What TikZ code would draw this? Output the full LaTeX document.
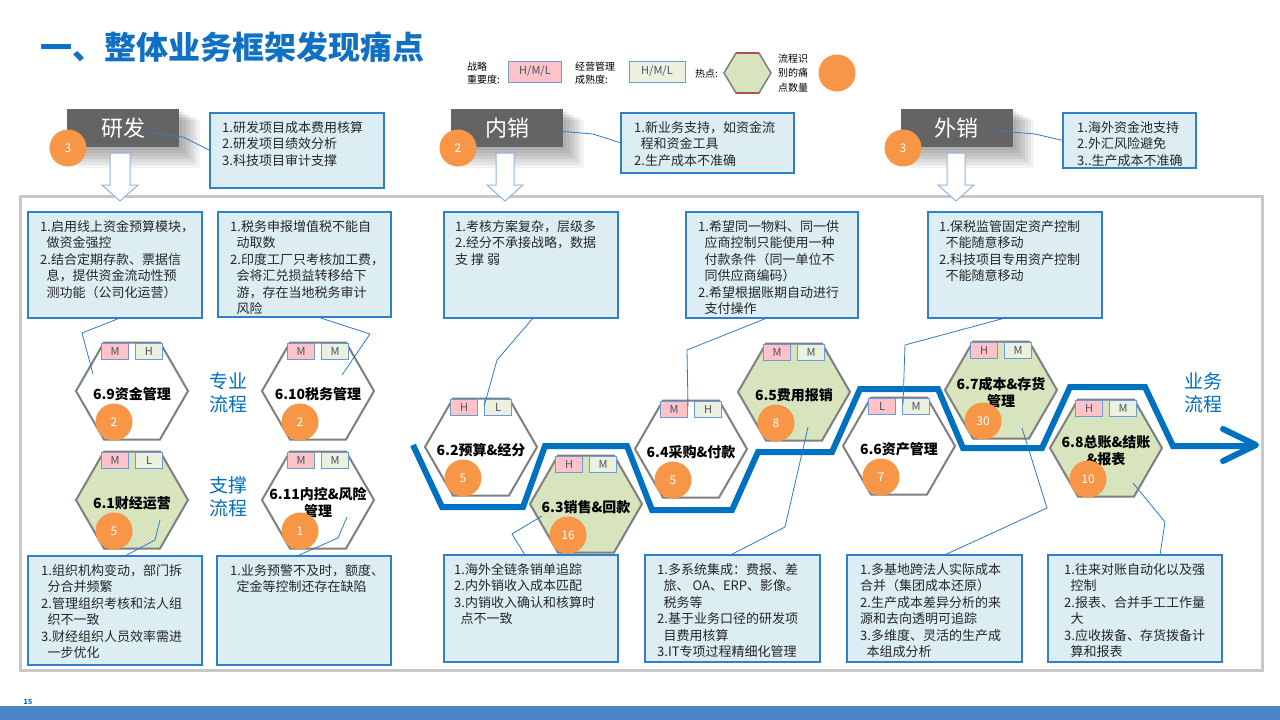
\documentclass[tikz,border=0pt]{standalone}
\usepackage{fontspec}
\setmainfont{Noto Sans CJK SC}
\usetikzlibrary{shapes.geometric}
\definecolor{titleb}{HTML}{1070C4}
\definecolor{boxf}{HTML}{DCEEF4}
\definecolor{boxb}{HTML}{2F7FCB}
\definecolor{connb}{HTML}{2E7BC6}
\definecolor{txt}{HTML}{262626}
\definecolor{gboxc}{HTML}{646464}
\definecolor{hexb}{HTML}{7F7F7F}
\definecolor{hexgc}{HTML}{D7E4BD}
\definecolor{tagb}{HTML}{6A9BD8}
\definecolor{tagpc}{HTML}{FFC3C7}
\definecolor{taggc}{HTML}{EBF1DE}
\definecolor{tagt}{HTML}{44546A}
\definecolor{orng}{HTML}{F79646}
\definecolor{sideb}{HTML}{0070C0}
\definecolor{arrb}{HTML}{8DB4E2}
\definecolor{zigc}{HTML}{0070C0}
\definecolor{framec}{HTML}{C8C8C8}
\definecolor{barc}{HTML}{4A86C8}
\definecolor{legred}{HTML}{A9524C}
\tikzset{
 tbox/.style={draw=boxb, fill=boxf, line width=1.1pt, inner sep=0pt, outer sep=0pt, anchor=north west},
 ttext/.style={anchor=north west, inner sep=0pt, align=left, text=txt, font=\fontsize{13}{16.5}\selectfont},
 conn/.style={draw=connb, line width=0.8pt},
 gbox/.style={fill=gboxc, text=white, minimum width=112pt, minimum height=38pt, inner sep=0pt, outer sep=0pt, font=\fontsize{22}{22}\selectfont},
 hexbase/.style={regular polygon, regular polygon sides=6, minimum size=112pt, inner sep=0pt, outer sep=0pt, draw=hexb, line width=2pt},
 hexw/.style={hexbase, fill=white},
 hexg/.style={hexbase, fill=hexgc},
 tagp/.style={draw=tagb, fill=tagpc, minimum width=27pt, minimum height=16pt, inner sep=0pt, text=tagt, font=\fontsize{11}{11}\selectfont, line width=0.9pt},
 tagg/.style={tagp, fill=taggc},
 num/.style={circle, fill=orng, minimum size=37pt, inner sep=0pt, text=white, font=\fontsize{12}{12}\selectfont},
 hl/.style={font=\bfseries\fontsize{14}{17}\selectfont, align=center, inner sep=0pt},
 side/.style={text=sideb, font=\fontsize{19}{23}\selectfont, align=center, inner sep=0pt},
 harrow/.style={draw=arrb, fill=white, line width=1pt},
 zig/.style={draw=zigc, line width=6pt},
 legt/.style={font=\fontsize{10}{13}\selectfont, align=left, inner sep=0pt, text=black, anchor=west},
}
\newcommand\TB[7]{%
 \node[tbox, minimum width=#3pt, minimum height=#4pt] (#1) at (#2) {};
 \node[ttext] (#1t) at ([xshift=#5pt,yshift=-#6pt]#1.north west) {#7};}
\newcommand\Hex[6]{%
 \node[#3] (#1) at (#2) {};
 \node[tagp] (#1p) at ([xshift=-17pt,yshift=-9pt]#1.north) {#4};
 \node[tagg] (#1g) at ([xshift=17pt,yshift=-9pt]#1.north) {#5};
 \node[hl] (#1t) at ([yshift=-3pt]#1.center) {#6};}
\newcommand\HexNum[2]{%
 \node[num] (#1n) at ([xshift=-18pt,yshift=-31pt]#1.center) {#2};}
\newcommand\ind{\hspace*{0.5em}}
\begin{document}
\begin{tikzpicture}[x=1pt,y=-1pt]
\useasboundingbox (0,0) rectangle (1280,720);
\fill[white] (0,0) rectangle (1280,720);
% title
\node[anchor=west, inner sep=0pt, text=titleb, font=\bfseries\fontsize{32}{32}\selectfont] (title) at (40,47) {一、整体业务框架发现痛点};
% legend
\node[legt] (lg1) at (467,73) {战略\\重要度:};
\node[draw=tagb, fill=tagpc, line width=0.9pt, minimum width=53pt, minimum height=21pt, inner sep=0pt, text=tagt, font=\fontsize{11}{11}\selectfont] (lgp) at (535,71.5) {H/M/L};
\node[legt] (lg2) at (575,73) {经营管理\\成熟度:};
\node[draw=tagb, fill=taggc, line width=0.9pt, minimum width=56pt, minimum height=21pt, inner sep=0pt, text=tagt, font=\fontsize{11}{11}\selectfont] (lgg) at (657,71.5) {H/M/L};
\node[legt] (lg3) at (695,74) {热点:};
\filldraw[fill=hexgc, draw=hexb, line width=1.5pt] (724,73) -- (736,53) -- (759,53) -- (771,73) -- (759,93) -- (736,93) -- cycle;
\draw[legred, line width=1.5pt] (736,53) -- (759,53) (736,93) -- (759,93);
\node[legt, font=\fontsize{10}{14.5}\selectfont] (lg4) at (778,73) {流程识\\别的痛\\点数量};
\node[num] (lgn) at (837,73) {};
% frame
\draw[framec, line width=3pt] (20,196) rectangle (1262,670);
% shadows of the gray title boxes
\foreach \cx in {123,507,956.5}{
 \foreach \i in {1,...,7}{
  \fill[black, opacity=0.05] (\cx-56+\i*1.5, 109+\i*1.5) rectangle (\cx+56+\i*3, 147+\i*3);
 }}
% title boxes
\node[gbox] (rd) at (123,128) {研发};
\node[gbox] (nx) at (507,128) {内销};
\node[gbox] (wx) at (956.5,128) {外销};
\node[num] (rdn) at (68,148) {3};
\node[num] (nxn) at (458,148) {2};
\node[num] (wxn) at (903,148) {3};
% hollow arrows
\draw[harrow] (110,153) -- (130,153) -- (130,185) -- (138,185) -- (120,201) -- (102,185) -- (110,185) -- cycle;
\draw[harrow] (496,153) -- (514,153) -- (514,185) -- (523,185) -- (505,201) -- (487,185) -- (496,185) -- cycle;
\draw[harrow] (947,153) -- (965,153) -- (965,185) -- (974,185) -- (956,201) -- (938,185) -- (947,185) -- cycle;
% top boxes
\TB{T1}{210,113}{174}{75}{12}{8}{1.研发项目成本费用核算\\2.研发项目绩效分析\\3.科技项目审计支撑}
\TB{T2}{621,113}{173}{60}{13}{8}{1.新业务支持，如资金流\\\ind 程和资金工具\\2.生产成本不准确}
\TB{T3}{1063,113}{133}{55}{14}{8}{1.海外资金池支持\\2.外汇风险避免\\3..生产成本不准确}
% second row boxes
\TB{A}{28,212}{174}{106}{12}{8}{1.启用线上资金预算模块，\\\ind 做资金强控\\2.结合定期存款、票据信\\\ind 息，提供资金流动性预\\\ind 测功能（公司化运营）}
\TB{B}{218,212}{173}{105}{12}{8}{1.税务申报增值税不能自\\\ind 动取数\\2.印度工厂只考核加工费，\\\ind 会将汇兑损益转移给下\\\ind 游，存在当地税务审计\\\ind 风险}
\TB{C}{444,212}{174}{106}{11}{8}{1.考核方案复杂，层级多\\2.经分不承接战略，数据\\支 撑 弱}
\TB{D}{686,212}{172}{106}{12}{8}{1.希望同一物料、同一供\\\ind 应商控制只能使用一种\\\ind 付款条件（同一单位不\\\ind 同供应商编码）\\2.希望根据账期自动进行\\\ind 支付操作}
\TB{E}{928,212}{174}{106}{11}{8}{1.保税监管固定资产控制\\\ind 不能随意移动\\2.科技项目专用资产控制\\\ind 不能随意移动}
% bottom boxes
\TB{F}{28,556}{174}{109}{13}{8}{1.组织机构变动，部门拆\\\ind 分合并频繁\\2.管理组织考核和法人组\\\ind 织不一致\\3.财经组织人员效率需进\\\ind 一步优化}
\TB{G}{217,556}{174}{109}{13}{8}{1.业务预警不及时，额度、\\\ind 定金等控制还存在缺陷}
\TB{H}{444,555}{174}{107}{10}{8}{1.海外全链条销单追踪\\2.内外销收入成本匹配\\3.内销收入确认和核算时\\\ind 点不一致}
\TB{I}{645,555}{175}{107}{12}{8}{1.多系统集成：费报、差\\\ind 旅、 OA、ERP、影像。\\\ind 税务等\\2.基于业务口径的研发项\\\ind 目费用核算\\3.IT专项过程精细化管理}
\TB{J}{847,555}{175}{107}{13}{8}{1.多基地跨法人实际成本\\合并（集团成本还原）\\2.生产成本差异分析的来\\源和去向透明可追踪\\3.多维度、灵活的生产成\\\ind 本组成分析}
\TB{K}{1048,555}{174}{107}{16}{8}{1.往来对账自动化以及强\\\ind 控制\\2.报表、合并手工工作量\\\ind 大\\3.应收拨备、存货拨备计\\\ind 算和报表}
% business-process zigzag
\draw[zig] (413,445) -- (442,507) -- (523,507) -- (545,446) -- (627,446) -- (652,510) -- (732,510) -- (758,452) -- (832,452) -- (860,389) -- (938,389) -- (963,448) -- (1042,448) -- (1070,387) -- (1145,387) -- (1173,446) -- (1254,446);
\coordinate (ztip) at (1256,445);
\draw[zig, line cap=round, line join=round] (1223,429) -- (ztip) -- (1223,461);
% hexagons
\Hex{h69}{132,391}{hexw}{M}{H}{6.9资金管理}
\Hex{h610}{318,391}{hexw}{M}{M}{6.10税务管理}
\Hex{h61}{132,500}{hexg}{M}{L}{6.1财经运营}
\Hex{h611}{318,500}{hexw}{M}{M}{6.11内控\&风险\\管理}
\Hex{h62}{481,447}{hexw}{H}{L}{6.2预算\&经分}
\Hex{h63}{586,504}{hexg}{H}{M}{6.3销售\&回款}
\Hex{h64}{691,449}{hexw}{M}{H}{6.4采购\&付款}
\Hex{h65}{794,392}{hexg}{M}{M}{6.5费用报销}
\Hex{h66}{899,446}{hexw}{L}{M}{6.6资产管理}
\Hex{h67}{1001,390}{hexg}{H}{M}{6.7成本\&存货\\管理}
\Hex{h68}{1106,448}{hexg}{H}{M}{6.8总账\&结账\\\&报表}
% side labels
\node[side] (s1) at (228,393) {专业\\流程};
\node[side] (s2) at (228,497) {支撑\\流程};
\node[side] (s3) at (1203,393) {业务\\流程};
% connectors
\draw[conn] ([xshift=-31pt,yshift=-5pt]rd.east) -- (183,137) -- (T1.west);
\draw[conn] ([xshift=-5pt,yshift=-3pt]nx.east) -- (593,134) -- (T2.west);
\draw[conn] ([xshift=-13pt,yshift=-3pt]wx.east) -- (1035,134) -- (T3.west);
\draw[conn] ([xshift=5pt]A.south) -- (82,333) -- ([xshift=-39pt,yshift=17pt]h69.center);
\draw[conn] ([xshift=13pt]B.south) -- (370,334) -- ([xshift=24pt,yshift=16pt]h610.center);
\draw[conn] ([xshift=2pt]C.south) -- (497,360) -- ([xshift=3pt,yshift=-8pt]h62.north);
\draw[conn] ([xshift=-5pt]D.south) -- (687,350) -- ([xshift=-3pt,yshift=-6pt]h64.north);
\draw[conn] ([xshift=-10pt]E.south) -- (905,345) -- ([xshift=4pt,yshift=-7pt]h66.north);
\draw[conn] ([xshift=28pt,yshift=-20pt]h61.center) -- (155,540) -- ([xshift=10pt]F.north);
\draw[conn] ([xshift=29pt,yshift=-17pt]h611.center) -- (338,538) -- ([xshift=-7pt]G.north);
\draw[conn] ([xshift=-44pt,yshift=-12pt]h63.center) -- (512,534) -- ([xshift=-6pt]H.north);
\draw[conn] ([xshift=14pt,yshift=-35pt]h65.center) -- (785,527) -- ([xshift=-2pt]I.north);
\draw[conn] ([xshift=21pt,yshift=-38pt]h67.center) -- (1047,508) -- ([xshift=10pt]J.north);
\draw[conn] ([xshift=27pt,yshift=-35pt]h68.center) -- (1165,522) -- ([xshift=25pt]K.north);
% pain-point counts
\HexNum{h69}{2}
\HexNum{h610}{2}
\HexNum{h61}{5}
\HexNum{h611}{1}
\HexNum{h62}{5}
\HexNum{h63}{16}
\HexNum{h64}{5}
\HexNum{h65}{8}
\HexNum{h66}{7}
\HexNum{h67}{30}
\HexNum{h68}{10}
% footer
\fill[barc] (0,706) rectangle (1280,720);
\node[inner sep=0pt, text=sideb, font=\bfseries\fontsize{7}{7}\selectfont] (pg) at (28,702) {15};
\end{tikzpicture}
\end{document}
